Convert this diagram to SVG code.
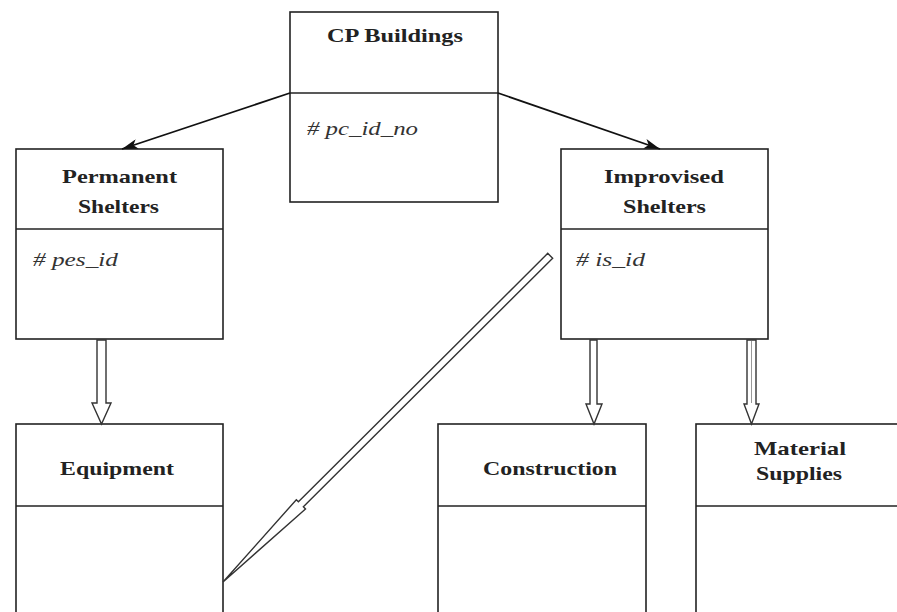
<svg xmlns="http://www.w3.org/2000/svg" width="897" height="612" viewBox="0 0 897 612">
<defs>
<style>
.box{fill:#fff;stroke:#222;stroke-width:1.6}
.div{stroke:#222;stroke-width:1.6}
.t{font-family:"Liberation Serif","Times New Roman",serif;font-weight:bold;font-size:19px;fill:#222;text-anchor:middle}
.a{font-family:"Liberation Serif","Times New Roman",serif;font-style:italic;font-size:19px;fill:#333}
.lk{stroke:#111;stroke-width:1.8;fill:none}
.hol{fill:#fff;stroke:#333;stroke-width:1.4;stroke-linejoin:miter}
</style>
<marker id="ah" viewBox="0 0 16 10" refX="16" refY="5" markerWidth="16" markerHeight="10" markerUnits="userSpaceOnUse" orient="auto">
<path d="M0,0 L16,5 L0,10 L4,5 Z" fill="#111"/>
</marker>
</defs>
<rect width="897" height="612" fill="#fff"/>

<g id="cp-buildings">
<rect class="box" x="290" y="12" width="208" height="190"/>
<line class="div" x1="290" y1="93" x2="498" y2="93"/>
<text class="t" x="395" y="42" textLength="136" lengthAdjust="spacingAndGlyphs">CP Buildings</text>
<text class="a" x="307" y="135" textLength="111" lengthAdjust="spacingAndGlyphs"># pc_id_no</text>
</g>

<g id="permanent-shelters">
<rect class="box" x="16" y="149" width="207" height="190"/>
<line class="div" x1="16" y1="229" x2="223" y2="229"/>
<text class="t" x="119.5" y="183" textLength="115" lengthAdjust="spacingAndGlyphs">Permanent</text>
<text class="t" x="118.5" y="213" textLength="81" lengthAdjust="spacingAndGlyphs">Shelters</text>
<text class="a" x="33" y="266" textLength="85" lengthAdjust="spacingAndGlyphs"># pes_id</text>
</g>

<g id="improvised-shelters">
<rect class="box" x="561" y="149" width="207" height="190"/>
<line class="div" x1="561" y1="229" x2="768" y2="229"/>
<text class="t" x="664" y="183" textLength="120" lengthAdjust="spacingAndGlyphs">Improvised</text>
<text class="t" x="664.5" y="213" textLength="83" lengthAdjust="spacingAndGlyphs">Shelters</text>
<text class="a" x="576" y="266" textLength="69" lengthAdjust="spacingAndGlyphs"># is_id</text>
</g>

<g id="equipment">
<rect class="box" x="16" y="424" width="207" height="200"/>
<line class="div" x1="16" y1="506" x2="223" y2="506"/>
<text class="t" x="117" y="475" textLength="114" lengthAdjust="spacingAndGlyphs">Equipment</text>
</g>

<g id="construction">
<rect class="box" x="438" y="424" width="208" height="200"/>
<line class="div" x1="438" y1="506" x2="646" y2="506"/>
<text class="t" x="550" y="475" textLength="134" lengthAdjust="spacingAndGlyphs">Construction</text>
</g>

<g id="material-supplies">
<rect class="box" x="696" y="424" width="250" height="200"/>
<line class="div" x1="696" y1="506" x2="946" y2="506"/>
<text class="t" x="800" y="455" textLength="92" lengthAdjust="spacingAndGlyphs">Material</text>
<text class="t" x="799" y="480" textLength="86" lengthAdjust="spacingAndGlyphs">Supplies</text>
</g>

<g id="connectors">
<line class="lk" x1="290" y1="93" x2="122" y2="149" marker-end="url(#ah)"/>
<line class="lk" x1="498" y1="93" x2="660" y2="149" marker-end="url(#ah)"/>
<polygon class="hol" points="97,340 97,403 92,403 101.5,424 111,403 106,403 106,340"/>
<polygon class="hol" points="590,340 590,404 586,404 594,424 602,404 597,404 597,340"/>
<polygon class="hol" points="747,340 747,404 744,404 751.5,424 759,404 756,404 756,340"/>
<line x1="751.5" y1="341" x2="751.5" y2="403" stroke="#999" stroke-width="1"/>
<g transform="translate(223,582) rotate(135.09)">
<polygon class="hol" points="-462,-3.5 -110,-3.5 -110,-6.5 0,0 -110,6.5 -110,3.5 -462,3.5"/>
</g>
</g>
</svg>
